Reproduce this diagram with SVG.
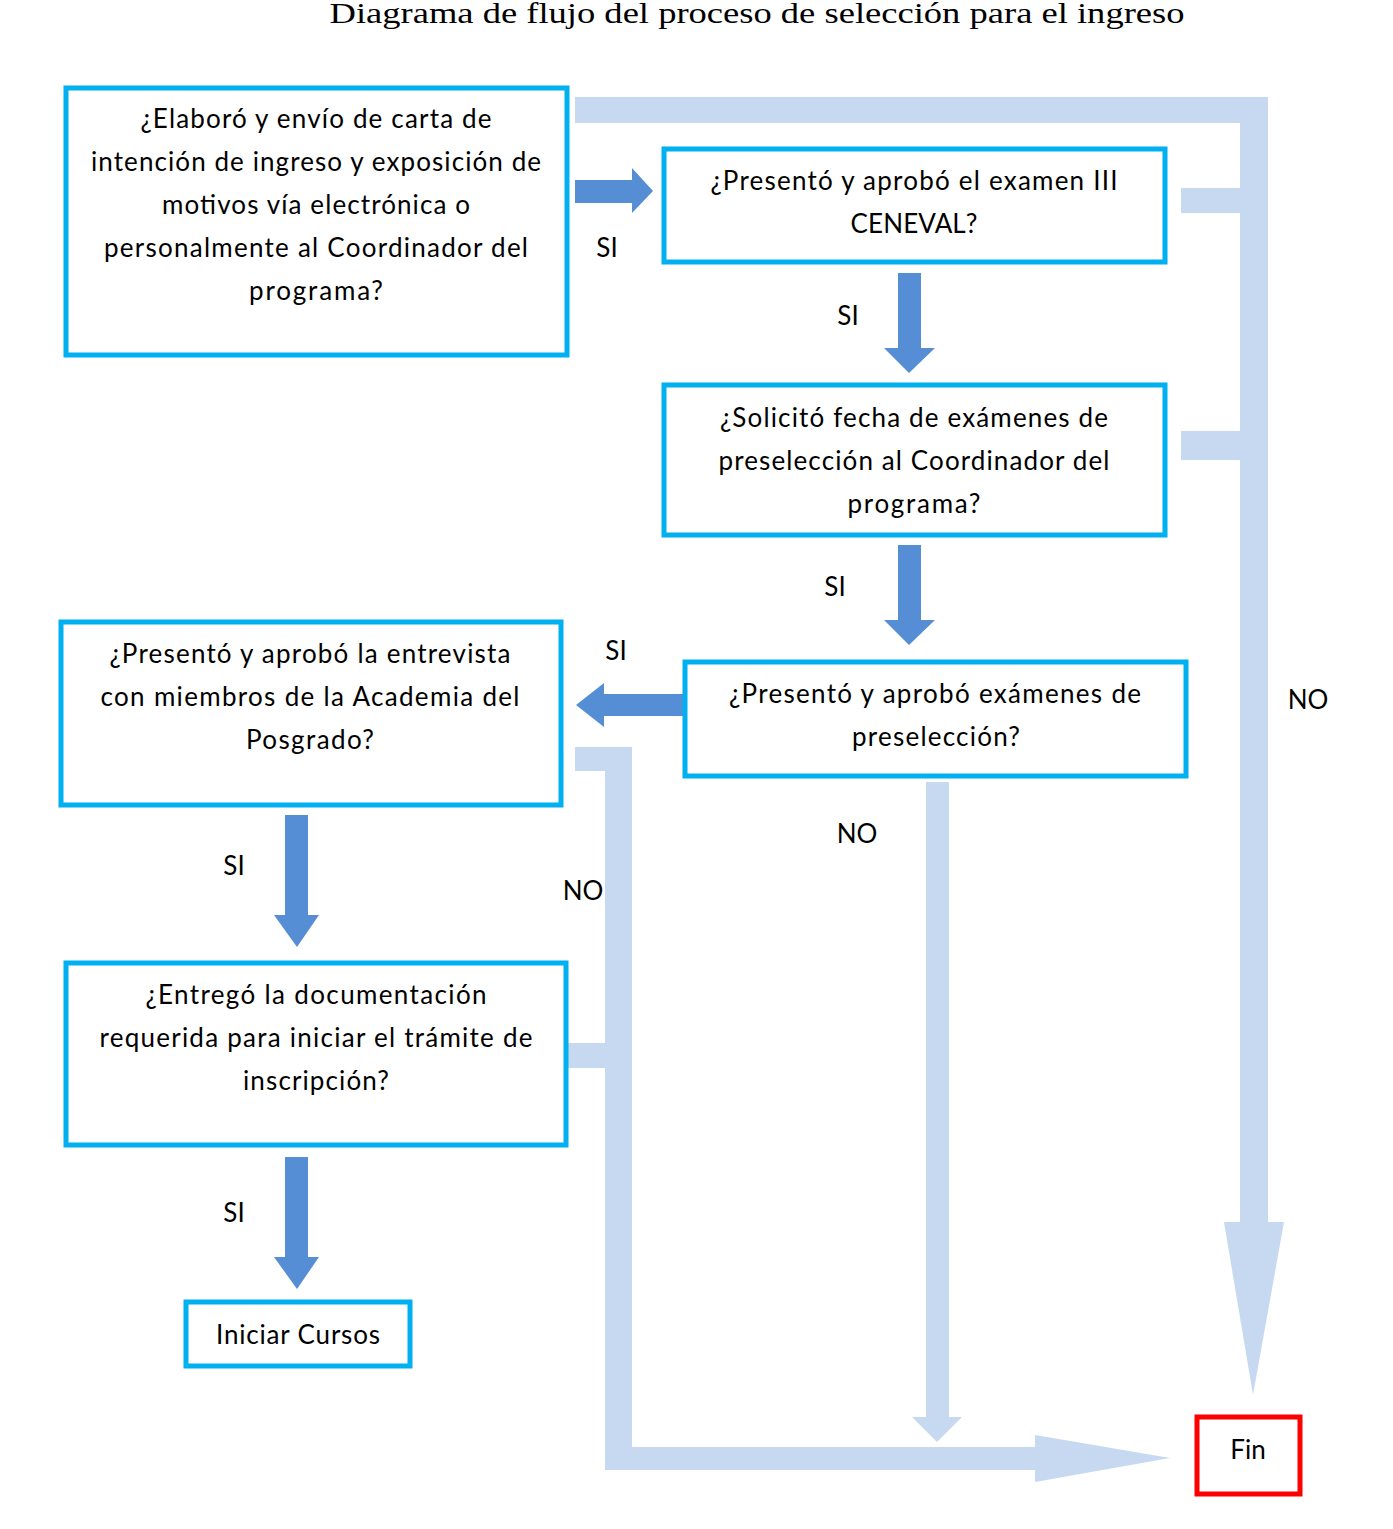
<svg xmlns="http://www.w3.org/2000/svg" width="1393" height="1529" viewBox="0 0 1393 1529">
<style>
.box{fill:#fff;stroke:#00B0F0;stroke-width:5}
.fin{fill:#fff;stroke:#FF0000;stroke-width:5}
.t{font-family:Lato,"Liberation Sans",sans-serif;font-size:26px;fill:#000;text-anchor:middle}
.lbl{font-family:Lato,"Liberation Sans",sans-serif;font-size:26px;fill:#000;text-anchor:middle}
.title{font-family:"Liberation Serif",serif;font-size:30px;fill:#000;text-anchor:middle}
.dk{fill:#558ED5}
.lt{fill:#C6D9F1}
</style>
<rect width="1393" height="1529" fill="#fff"/>
<text class="title" x="757" y="23" textLength="855" lengthAdjust="spacingAndGlyphs">Diagrama de flujo del proceso de selección para el ingreso</text>

<g id="connectors">
  <polygon class="lt" points="575,97 1268,97 1268,1222 1284,1222 1253,1395 1224,1222 1240,1222 1240,123 575,123"/>
  <rect class="lt" x="1181" y="188" width="60" height="25"/>
  <rect class="lt" x="1181" y="431" width="60" height="29"/>
  <polygon class="lt" points="575,747 632,747 632,1447 1035,1447 1035,1435 1170,1458 1035,1482 1035,1470 605,1470 605,771 575,771"/>
  <rect class="lt" x="565" y="1043" width="41" height="25"/>
  <polygon class="lt" points="926,782 949,782 949,1417 962,1417 937,1442 912,1417 926,1417"/>
  <polygon class="dk" points="575,180 632,180 632,168 653,191 632,213 632,203 575,203"/>
  <polygon class="dk" points="898,273 921,273 921,348 935,348 909,373 884,348 898,348"/>
  <polygon class="dk" points="898,545 921,545 921,620 935,620 909,645 884,620 898,620"/>
  <polygon class="dk" points="688,694 604,694 604,683 576,705 604,727 604,716 688,716"/>
  <polygon class="dk" points="285,815 308,815 308,915 319,915 297,947 274,915 285,915"/>
  <polygon class="dk" points="285,1157 308,1157 308,1257 319,1257 297,1289 274,1257 285,1257"/>
  <text class="lbl" x="607" y="257">SI</text>
  <text class="lbl" x="848" y="325">SI</text>
  <text class="lbl" x="835" y="596">SI</text>
  <text class="lbl" x="616" y="660">SI</text>
  <text class="lbl" x="234" y="875">SI</text>
  <text class="lbl" x="234" y="1222">SI</text>
  <text class="lbl" x="857" y="843">NO</text>
  <text class="lbl" x="583" y="900">NO</text>
  <text class="lbl" x="1308" y="709">NO</text>
</g>

<g id="n1">
  <rect class="box" x="66" y="88" width="501" height="267"/>
  <text class="t" x="316" y="128" textLength="351">¿Elaboró y envío de carta de</text>
  <text class="t" x="316" y="171" textLength="450">intención de ingreso y exposición de</text>
  <text class="t" x="316" y="214" textLength="308">motivos vía electrónica o</text>
  <text class="t" x="316" y="257" textLength="424">personalmente al Coordinador del</text>
  <text class="t" x="316" y="300" textLength="134">programa?</text>
</g>
<g id="n2">
  <rect class="box" x="664" y="149" width="501" height="113"/>
  <text class="t" x="914" y="190" textLength="407">¿Presentó y aprobó el examen III</text>
  <text class="t" x="914" y="233" textLength="127">CENEVAL?</text>
</g>
<g id="n3">
  <rect class="box" x="664" y="385" width="501" height="150"/>
  <text class="t" x="914" y="427" textLength="388">¿Solicitó fecha de exámenes de</text>
  <text class="t" x="914" y="470" textLength="391">preselección al Coordinador del</text>
  <text class="t" x="914" y="513" textLength="133">programa?</text>
</g>
<g id="n4">
  <rect class="box" x="685" y="662" width="501" height="114"/>
  <text class="t" x="935" y="703" textLength="412">¿Presentó y aprobó exámenes de</text>
  <text class="t" x="936" y="746" textLength="168">preselección?</text>
</g>
<g id="n5">
  <rect class="box" x="61" y="622" width="500" height="183"/>
  <text class="t" x="310" y="663" textLength="401">¿Presentó y aprobó la entrevista</text>
  <text class="t" x="310" y="706" textLength="419">con miembros de la Academia del</text>
  <text class="t" x="310" y="749" textLength="128">Posgrado?</text>
</g>
<g id="n6">
  <rect class="box" x="66" y="963" width="500" height="182"/>
  <text class="t" x="316" y="1004" textLength="341">¿Entregó la documentación</text>
  <text class="t" x="316" y="1047" textLength="433">requerida para iniciar el trámite de</text>
  <text class="t" x="316" y="1090" textLength="146">inscripción?</text>
</g>
<g id="n7">
  <rect class="box" x="186" y="1302" width="224" height="64"/>
  <text class="t" x="298" y="1344" textLength="164">Iniciar Cursos</text>
</g>
<g id="fin">
  <rect class="fin" x="1197" y="1417" width="103" height="77"/>
  <text class="t" x="1248" y="1459">Fin</text>
</g>
</svg>
